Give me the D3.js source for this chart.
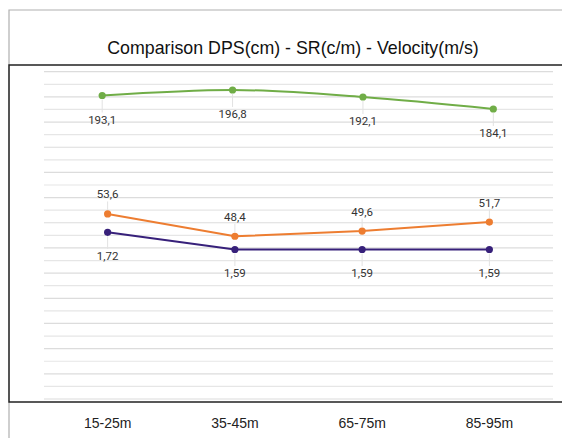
<!DOCTYPE html>
<html>
<head>
<meta charset="utf-8">
<script src="https://cdn.jsdelivr.net/npm/d3@7"></script>
<style>
  html, body { margin: 0; padding: 0; background: #fff; }
  svg { display: block; }
  .sans { font-family: "Liberation Sans", Arial, Helvetica, sans-serif; }
  .lbl { font-family: Roboto, "Noto Sans", sans-serif; }
</style>
</head>
<body>
<div id="chart"></div>
<script>
'use strict';

// data
const categories = ['15-25m', '35-45m', '65-75m', '85-95m'];
const dps = [193.1, 196.8, 192.1, 184.1];       // cm
const strokeRate = [53.6, 48.4, 49.6, 51.7];    // c/m
const velocity = [1.72, 1.59, 1.59, 1.59];      // m/s
const title = 'Comparison DPS(cm) - SR(c/m) - Velocity(m/s)';

const W = 562, H = 438;
const box = { left: 9, top: 65, bottom: 402 };
const plot = { left: 44, right: 553 };

const svg = d3.select('#chart').append('svg')
    .attr('width', W)
    .attr('height', H);

// outer frame (grey) and plot frame (black)
svg.append('path')
    .attr('d', `M${box.left},${H} V10 H${W}`)
    .attr('fill', 'none')
    .attr('stroke', '#b0b0b0')
    .attr('stroke-width', 1.2);

svg.append('path')
    .attr('d', `M${W},${box.top} H${box.left} V${box.bottom} H${W}`)
    .attr('fill', 'none')
    .attr('stroke', '#222')
    .attr('stroke-width', 1.4);

svg.append('text')
    .attr('class', 'sans')
    .attr('x', 293)
    .attr('y', 54)
    .attr('text-anchor', 'middle')
    .style('font-size', '17.8px')
    .style('fill', '#111')
    .text(title);

// horizontal grid
const yGrid = d3.scaleLinear().domain([0, 26]).range([399, 71.7]);
svg.append('g')
    .attr('class', 'grid')
  .selectAll('line')
    .data(d3.range(0, 27))
  .enter().append('line')
    .attr('x1', plot.left)
    .attr('x2', plot.right)
    .attr('y1', d => yGrid(d))
    .attr('y2', d => yGrid(d))
    .attr('stroke', d => d % 2 ? '#e6e6e6' : '#dcdcdc')
    .attr('stroke-width', 1.2);

// x axis
const x = d3.scaleBand().domain(categories).range([plot.left, plot.right]);
const xDps = d3.scaleBand().domain(categories).range([37, 558.5]);

const xAxis = d3.axisBottom(x).tickSize(0).tickPadding(0);
const gx = svg.append('g')
    .attr('class', 'x-axis')
    .attr('transform', `translate(0, 418)`)
    .call(xAxis);
gx.select('.domain').remove();
gx.attr('font-family', null).attr('font-size', null);
gx.selectAll('text')
    .attr('class', 'sans')
    .attr('dy', '0.71em')
    .style('font-size', '14px')
    .style('fill', '#222');

// one hidden value scale per series
const yDps = d3.scaleLinear().domain([0, 200]).range([384.4, 85.2]);
const ySr = d3.scaleLinear().domain([40, 60]).range([272.3, 186.5]);
const yVel = d3.scaleLinear().domain([1.5, 1.8]).range([261.4, 221.7]);

const locale = d3.formatLocale({ decimal: ',', thousands: '.', grouping: [3], currency: ['', ''] });

const series = [
  { values: dps, xs: xDps, ys: yDps, color: '#70ad47', fmt: locale.format('.1f'), side: 1, off: 24, curve: d3.curveMonotoneX },
  { values: strokeRate, xs: x, ys: ySr, color: '#ed7d31', fmt: locale.format('.1f'), side: -1, off: 19.5, curve: d3.curveLinear },
  { values: velocity, xs: x, ys: yVel, color: '#37207a', fmt: locale.format('.2f'), side: 1, off: 23.5, curve: d3.curveLinear }
];

series.forEach(s => {
  const pts = s.values.map((v, i) => ({
    x: s.xs(categories[i]) + s.xs.bandwidth() / 2,
    y: s.ys(v),
    v: v
  }));

  const g = svg.append('g');

  // faint leader ticks toward the labels
  g.selectAll('.leader')
      .data(pts)
    .enter().append('line')
      .attr('class', 'leader')
      .attr('x1', d => d.x)
      .attr('x2', d => d.x)
      .attr('y1', d => d.y + s.side * 4)
      .attr('y2', d => d.y + s.side * (s.off - 7))
      .attr('stroke', '#e2e2e2')
      .attr('stroke-width', 1);

  const line = d3.line().x(d => d.x).y(d => d.y).curve(s.curve);
  g.append('path')
      .datum(pts)
      .attr('d', line)
      .attr('fill', 'none')
      .attr('stroke', s.color)
      .attr('stroke-width', 2);

  g.selectAll('circle')
      .data(pts)
    .enter().append('circle')
      .attr('cx', d => d.x)
      .attr('cy', d => d.y)
      .attr('r', 3.6)
      .attr('fill', s.color);

  g.selectAll('.lbl')
      .data(pts)
    .enter().append('text')
      .attr('class', 'lbl')
      .attr('x', d => d.x)
      .attr('y', d => d.y + s.side * s.off)
      .attr('dy', '0.35em')
      .attr('text-anchor', 'middle')
      .style('font-size', '11.5px')
      .style('fill', '#333')
      .text(d => s.fmt(d.v));
});
</script>
</body>
</html>
